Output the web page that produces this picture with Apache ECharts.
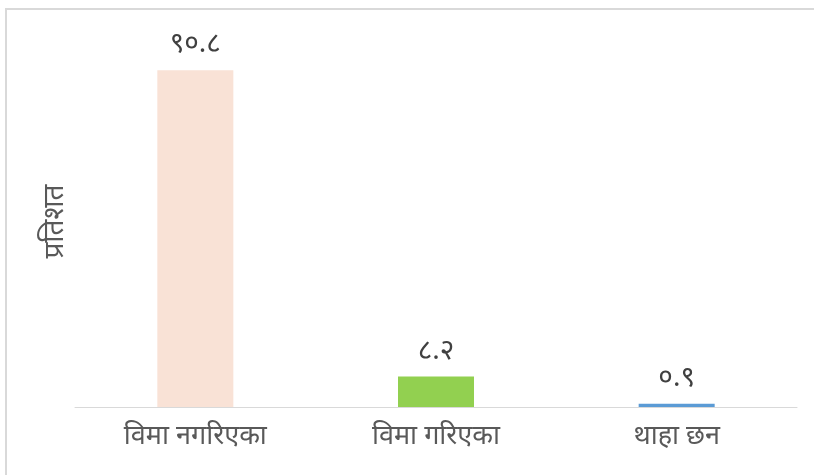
<!DOCTYPE html>
<html>
<head>
    <meta charset="utf-8" />
    <title>ECharts</title>
    <script src="https://cdn.jsdelivr.net/npm/echarts@6/dist/echarts.min.js"></script>
    <style>
        html, body { margin: 0; padding: 0; background: #fff; }
    </style>
</head>
<body>
    <div id="main" style="width: 814px;height:475px;"></div>
    <script type="text/javascript">
        var categories = ['विमा नगरिएका', 'विमा गरिएका', 'थाहा छन'];
        var values = [90.8, 8.2, 0.9];
        var valueLabels = ['९०.८', '८.२', '०.९'];
        var barColors = ['#F9E2D6', '#92D050', '#5B9BD5'];

        var myChart = echarts.init(document.getElementById('main'));

        var option = {
            animation: false,
            textStyle: { fontFamily: 'Noto Sans, sans-serif' },
            graphic: [{
                type: 'rect',
                shape: { x: 6, y: 9, width: 820, height: 480 },
                style: { fill: 'none', stroke: '#d9d9d9', lineWidth: 2 }
            }],
            grid: { left: 75, right: 17, top: 36, bottom: 68 },
            xAxis: {
                type: 'category',
                data: categories,
                axisLine: { lineStyle: { color: '#d9d9d9', width: 1 } },
                axisTick: { show: false },
                axisLabel: { color: '#595959', fontSize: 27, margin: 16 }
            },
            yAxis: {
                type: 'value',
                min: 0,
                max: 100,
                name: 'प्रतिशत',
                nameLocation: 'middle',
                nameGap: 6,
                nameTextStyle: { color: '#595959', fontSize: 28 },
                axisLine: { show: false },
                axisTick: { show: false },
                axisLabel: { show: false },
                splitLine: { show: false }
            },
            series: [{
                type: 'bar',
                barWidth: 76,
                data: values.map(function (v, i) {
                    return { value: v, itemStyle: { color: barColors[i] } };
                }),
                label: {
                    show: true,
                    position: 'top',
                    distance: 12,
                    color: '#404040',
                    fontSize: 28,
                    formatter: function (p) { return valueLabels[p.dataIndex]; }
                }
            }]
        };

        myChart.setOption(option);
    </script>
</body>
</html>
